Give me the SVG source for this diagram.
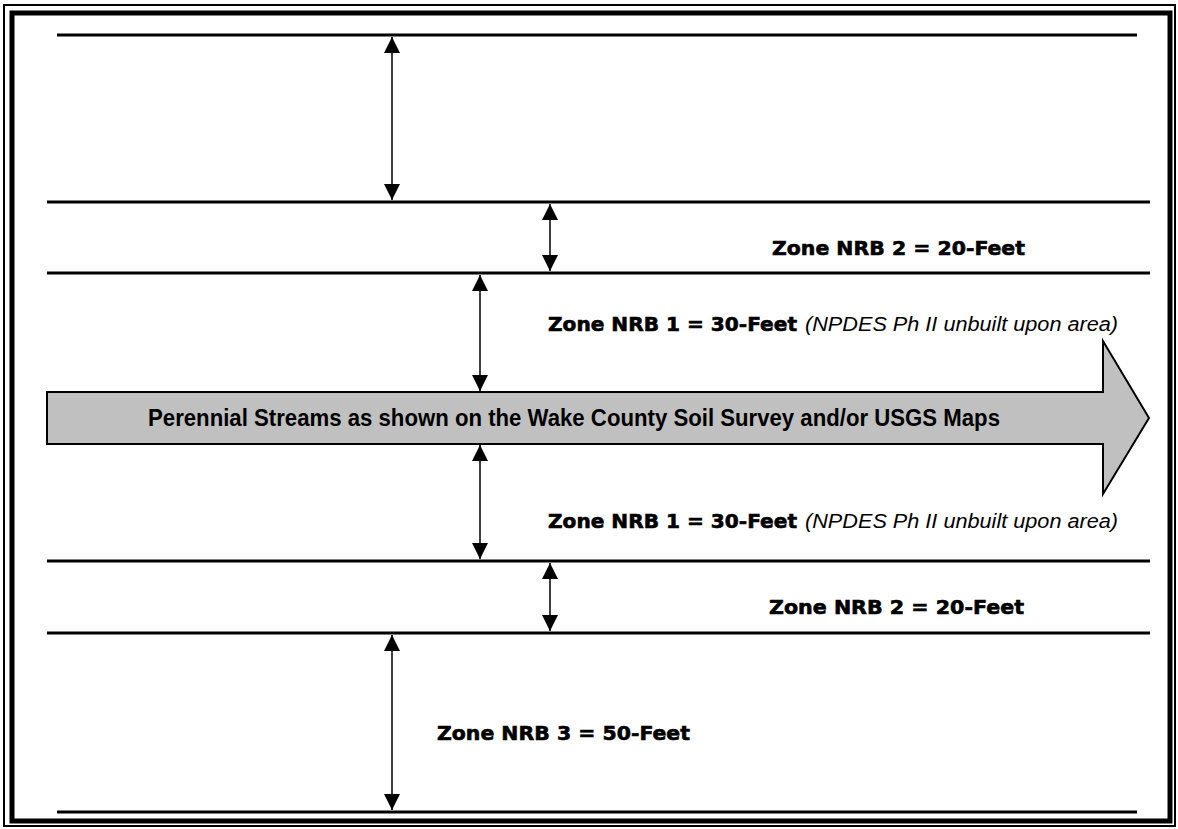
<svg xmlns="http://www.w3.org/2000/svg" width="1178" height="829" viewBox="0 0 1178 829">
<style>
.hl{stroke:#000;stroke-width:3;fill:none}
.dim{stroke:#000;stroke-width:1.5;fill:none;marker-start:url(#ah);marker-end:url(#ah)}
.zone{font-family:"DejaVu Sans","Liberation Sans",sans-serif;font-weight:bold;font-size:19px;fill:#000;stroke:#000;stroke-width:0.6}
.note{font-family:"Liberation Sans",Arial,sans-serif;font-style:italic;font-size:20px;fill:#000}
.stream{font-family:"Liberation Sans Narrow","Liberation Sans",Arial,sans-serif;font-weight:bold;font-size:23px;fill:#000}
</style>
<defs>
<marker id="ah" viewBox="0 0 16 16" refX="16" refY="8" markerWidth="16" markerHeight="16" markerUnits="userSpaceOnUse" orient="auto-start-reverse">
<path d="M0,0 L16,8 L0,16 Z" fill="#000"/>
</marker>
</defs>
<rect width="1178" height="829" fill="#fff"/>
<g id="frame">
<rect x="4" y="5" width="1171" height="821" fill="none" stroke="#000" stroke-width="2"/>
<rect x="12" y="13" width="1158" height="808" fill="none" stroke="#000" stroke-width="5"/>
</g>
<g id="boundaries">
<line class="hl" x1="57" y1="35" x2="1137" y2="35"/>
<line class="hl" x1="47" y1="202" x2="1150" y2="202"/>
<line class="hl" x1="47" y1="273" x2="1150" y2="273"/>
<line class="hl" x1="47" y1="561" x2="1150" y2="561"/>
<line class="hl" x1="47" y1="633" x2="1150" y2="633"/>
<line class="hl" x1="57" y1="812" x2="1137" y2="812"/>
</g>
<g id="stream">
<polygon points="47,392 1103,392 1103,341 1149,418 1103,494 1103,444 47,444" fill="#c0c0c0" stroke="#000" stroke-width="2"/>
<text class="stream" x="148" y="426" textLength="852" lengthAdjust="spacingAndGlyphs">Perennial Streams as shown on the Wake County Soil Survey and/or USGS Maps</text>
</g>
<g id="connectors">
<line class="dim" x1="392" y1="37" x2="392" y2="200"/>
<line class="dim" x1="550" y1="204" x2="550" y2="271"/>
<line class="dim" x1="480" y1="275" x2="480" y2="391"/>
<line class="dim" x1="480" y1="445" x2="480" y2="559"/>
<line class="dim" x1="550" y1="563" x2="550" y2="631"/>
<line class="dim" x1="392" y1="635" x2="392" y2="810"/>
</g>
<g id="labels">
<text class="zone" x="772" y="255" textLength="253" lengthAdjust="spacingAndGlyphs">Zone NRB 2 = 20-Feet</text>
<text class="zone" x="548" y="331" textLength="249" lengthAdjust="spacingAndGlyphs">Zone NRB 1 = 30-Feet</text>
<text class="note" x="805" y="331" textLength="313" lengthAdjust="spacingAndGlyphs">(NPDES Ph II unbuilt upon area)</text>
<text class="zone" x="548" y="528" textLength="249" lengthAdjust="spacingAndGlyphs">Zone NRB 1 = 30-Feet</text>
<text class="note" x="805" y="528" textLength="313" lengthAdjust="spacingAndGlyphs">(NPDES Ph II unbuilt upon area)</text>
<text class="zone" x="769" y="614" textLength="255" lengthAdjust="spacingAndGlyphs">Zone NRB 2 = 20-Feet</text>
<text class="zone" x="437" y="740" textLength="253" lengthAdjust="spacingAndGlyphs">Zone NRB 3 = 50-Feet</text>
</g>
</svg>
